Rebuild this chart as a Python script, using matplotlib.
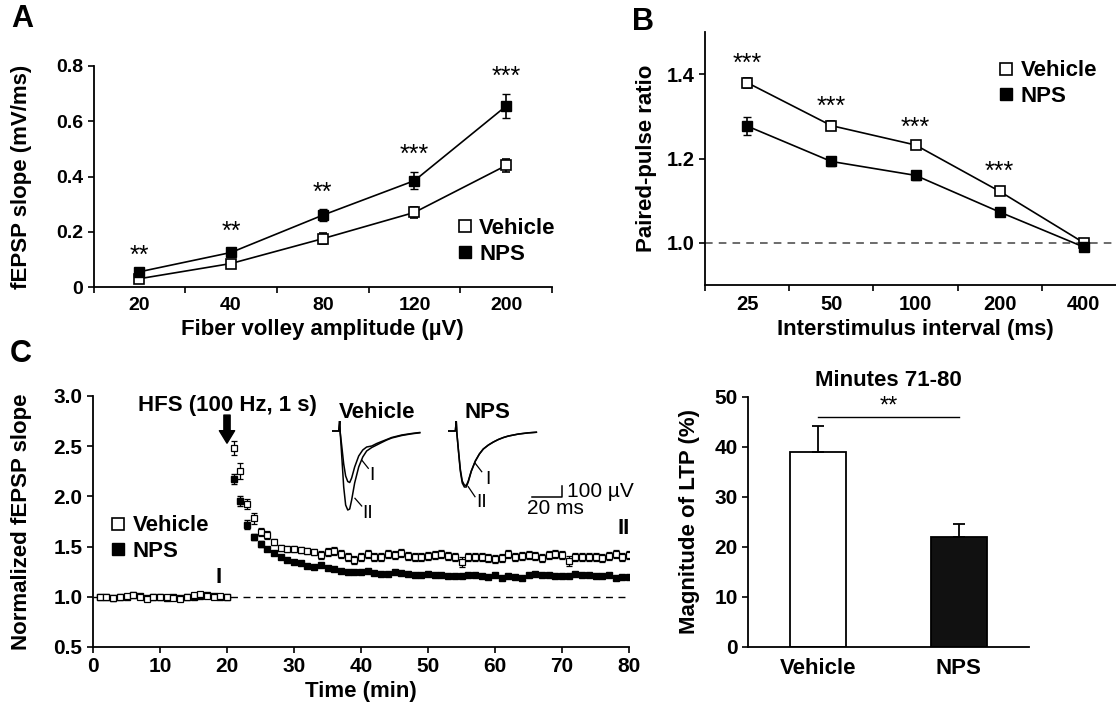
import numpy as np
import matplotlib.pyplot as plt
from matplotlib.lines import Line2D

plt.rcParams['font.family'] = ['Liberation Sans', 'DejaVu Sans']
plt.rcParams['font.weight'] = 'bold'
plt.rcParams['axes.linewidth'] = 1.3

# ── Panel A: input-output ──
a_labels = ['20', '40', '80', '120', '200']
a_veh = [0.030, 0.085, 0.175, 0.270, 0.440]
a_veh_err = [0.006, 0.008, 0.020, 0.020, 0.022]
a_nps = [0.055, 0.125, 0.260, 0.385, 0.655]
a_nps_err = [0.008, 0.010, 0.022, 0.030, 0.045]
a_stars = ['**', '**', '**', '***', '***']
a_star_y = [0.113, 0.200, 0.340, 0.480, 0.760]

# ── Panel B: paired-pulse ratio ──
b_labels = ['25', '50', '100', '200', '400']
b_veh = [1.380, 1.278, 1.232, 1.122, 1.000]
b_veh_err = [0.012, 0.010, 0.010, 0.006, 0.004]
b_nps = [1.277, 1.193, 1.160, 1.073, 0.990]
b_nps_err = [0.022, 0.010, 0.010, 0.006, 0.006]
b_stars = ['***', '***', '***', '***', '']
b_star_y = [1.424, 1.323, 1.272, 1.168, 0]

# ── Panel C: LTP time course ──
c_time = list(range(1, 81))
c_veh = [1.00, 1.00, 0.99, 1.00, 1.01, 1.02, 1.00, 0.98, 1.00, 1.00,
         1.00, 0.99, 0.98, 1.00, 1.02, 1.03, 1.01, 1.00, 1.01, 1.00,
         2.48, 2.25, 1.92, 1.78, 1.65, 1.62, 1.55, 1.49, 1.48, 1.48,
         1.47, 1.46, 1.45, 1.42, 1.45, 1.46, 1.43, 1.40, 1.37, 1.40,
         1.43, 1.40, 1.40, 1.43, 1.42, 1.44, 1.41, 1.40, 1.40, 1.41,
         1.42, 1.43, 1.41, 1.40, 1.35, 1.40, 1.40, 1.40, 1.39, 1.38,
         1.39, 1.43, 1.40, 1.41, 1.42, 1.41, 1.39, 1.42, 1.43, 1.42,
         1.36, 1.40, 1.40, 1.40, 1.40, 1.39, 1.41, 1.43, 1.40, 1.42]
c_veh_err = [0.01] * 20 + [
         0.07, 0.08, 0.05, 0.05, 0.04, 0.04, 0.03, 0.03, 0.03, 0.03,
         0.03, 0.03, 0.03, 0.04, 0.04, 0.04, 0.04, 0.04, 0.04, 0.04,
         0.04, 0.04, 0.04, 0.04, 0.04, 0.04, 0.04, 0.04, 0.04, 0.04,
         0.04, 0.04, 0.04, 0.04, 0.05, 0.04, 0.04, 0.04, 0.04, 0.04,
         0.04, 0.04, 0.04, 0.04, 0.04, 0.04, 0.04, 0.04, 0.04, 0.04,
         0.05, 0.04, 0.04, 0.04, 0.04, 0.04, 0.04, 0.04, 0.04, 0.04]
c_nps = [1.00, 1.00, 0.99, 1.00, 1.00, 1.02, 1.01, 0.99, 1.00, 1.00,
         0.99, 1.00, 0.99, 1.00, 1.00, 1.01, 1.02, 1.01, 1.00, 1.00,
         2.17, 1.95, 1.72, 1.60, 1.53, 1.48, 1.44, 1.40, 1.37, 1.35,
         1.34, 1.31, 1.30, 1.32, 1.29, 1.28, 1.26, 1.25, 1.25, 1.25,
         1.26, 1.24, 1.23, 1.23, 1.25, 1.24, 1.23, 1.22, 1.22, 1.23,
         1.22, 1.22, 1.21, 1.21, 1.21, 1.22, 1.22, 1.21, 1.20, 1.22,
         1.19, 1.21, 1.20, 1.19, 1.22, 1.23, 1.22, 1.22, 1.21, 1.21,
         1.21, 1.23, 1.22, 1.22, 1.21, 1.21, 1.22, 1.19, 1.20, 1.20]
c_nps_err = [0.01] * 20 + [
         0.05, 0.05, 0.04, 0.03, 0.03, 0.02, 0.02, 0.02, 0.02, 0.02,
         0.02, 0.02, 0.02, 0.02, 0.02, 0.02, 0.02, 0.02, 0.02, 0.02,
         0.02, 0.02, 0.02, 0.02, 0.02, 0.02, 0.02, 0.02, 0.02, 0.02,
         0.02, 0.02, 0.02, 0.02, 0.02, 0.02, 0.02, 0.02, 0.02, 0.02,
         0.02, 0.02, 0.02, 0.02, 0.02, 0.02, 0.02, 0.02, 0.02, 0.02,
         0.02, 0.02, 0.02, 0.02, 0.02, 0.02, 0.02, 0.02, 0.02, 0.02]

# example traces (ms, µV)
tr_t = [0, 4.7, 5.3, 5.7, 6.7, 8, 9.3, 10.7, 12, 13.3, 15.3, 18, 20.7, 23.3, 26.7,
        30, 33.3, 36.7, 40, 46.7, 53.3, 58.7]
tr_veh_I = [0, 0, 100, -20, -150, -330, -450, -505, -515, -470, -360, -250, -190, -160,
            -150, -125, -105, -85, -65, -40, -25, -15]
tr_veh_II = [0, 0, 100, -20, -250, -560, -740, -790, -780, -690, -520, -360, -260, -200,
             -165, -140, -115, -90, -70, -45, -28, -18]
tr_nps_I = [0, 0, 100, -20, -180, -380, -500, -540, -545, -500, -400, -300, -230, -180,
            -140, -110, -85, -65, -50, -30, -18, -12]
tr_nps_II = [0, 0, 100, -20, -190, -400, -520, -560, -560, -510, -405, -302, -231, -181,
             -141, -111, -86, -66, -51, -31, -19, -13]

# ── Panel D: LTP magnitude ──
d_groups = ['Vehicle', 'NPS']
d_vals = [39.0, 22.1]
d_err = [5.2, 2.5]

TICK = 15
LAB = 16
W, H = 1116, 703

fig = plt.figure(figsize=(W / 100, H / 100), dpi=100)


def px_axes(left, top, right, bottom):
    return fig.add_axes([left / W, 1 - bottom / H, (right - left) / W, (bottom - top) / H])


def style(ax, size=TICK):
    ax.spines['top'].set_visible(False)
    ax.spines['right'].set_visible(False)
    ax.tick_params(direction='out', labelsize=size, width=1.2, length=4)


def legend(ax, bbox):
    h = [Line2D([], [], ls='none', marker='s', mfc='white', mec='black', ms=8.5, mew=1.2),
         Line2D([], [], ls='none', marker='s', mfc='black', mec='black', ms=8.5)]
    ax.legend(h, ['Vehicle', 'NPS'], loc='center left', bbox_to_anchor=bbox, frameon=False,
              handlelength=0.6, handletextpad=0.35, labelspacing=0.2, borderpad=0,
              borderaxespad=0, prop={'weight': 'bold', 'size': 16})


def category_axis(ax, labels, size):
    pos = np.arange(len(labels)) + 0.5
    ax.set_xlim(0, len(labels))
    ax.set_xticks(np.arange(0, len(labels) + 1))
    ax.set_xticklabels([])
    ax.set_xticks(pos, minor=True)
    ax.set_xticklabels(labels, minor=True, fontsize=size, fontweight='bold')
    ax.tick_params(axis='x', which='minor', length=0, pad=7)
    return pos


def ylab(ax, text, x):
    ax.set_ylabel(text, fontsize=LAB, fontweight='bold')
    ax.yaxis.set_label_coords(x, 0.5)


def xlab(ax, text, y):
    ax.set_xlabel(text, fontsize=LAB, fontweight='bold')
    ax.xaxis.set_label_coords(0.5, y)


# ── A ──
axA = px_axes(93.5, 66, 552, 287)
style(axA, 14)
xa = category_axis(axA, a_labels, 14)
axA.errorbar(xa, a_veh, yerr=a_veh_err, color='black', lw=1.2, marker='s', ms=6.5,
             mfc='white', mec='black', mew=1.2, capsize=3, elinewidth=1.2, zorder=3)
axA.errorbar(xa, a_nps, yerr=a_nps_err, color='black', lw=1.2, marker='s', ms=7,
             mfc='black', mec='black', capsize=3, elinewidth=1.2, zorder=3)
for x, s, y in zip(xa, a_stars, a_star_y):
    axA.text(x, y, s, ha='center', va='center', fontsize=18, fontweight='normal')
axA.set_ylim(0, 0.8)
axA.set_yticks([0, 0.2, 0.4, 0.6, 0.8])
axA.set_yticklabels(['0', '0.2', '0.4', '0.6', '0.8'], fontweight='bold')
xlab(axA, 'Fiber volley amplitude (µV)', -0.145)
ylab(axA, 'fEPSP slope (mV/ms)', -0.134)
legend(axA, (0.795, 0.206))

# ── B ──
axB = px_axes(705, 32, 1126, 285)
style(axB, 14.5)
xb = category_axis(axB, b_labels, 14.5)
axB.axhline(1.0, color='#444444', ls=(0, (5, 4)), lw=1.1, zorder=1)
axB.errorbar(xb, b_veh, yerr=b_veh_err, color='black', lw=1.2, marker='s', ms=6.5,
             mfc='white', mec='black', mew=1.2, capsize=3, elinewidth=1.2, zorder=3)
axB.errorbar(xb, b_nps, yerr=b_nps_err, color='black', lw=1.2, marker='s', ms=7,
             mfc='black', mec='black', capsize=3, elinewidth=1.2, zorder=3)
for x, s, y in zip(xb, b_stars, b_star_y):
    if s:
        axB.text(x, y, s, ha='center', va='center', fontsize=18, fontweight='normal')
axB.set_ylim(0.9, 1.5)
axB.set_yticks([1.0, 1.2, 1.4])
axB.set_yticklabels(['1.0', '1.2', '1.4'], fontweight='bold')
xlab(axB, 'Interstimulus interval (ms)', -0.134)
ylab(axB, 'Paired-pulse ratio', -0.114)
legend(axB, (0.70, 0.796))

# ── C ──
axC = px_axes(93, 396, 629, 647)
style(axC)
axC.axhline(1.0, color='black', ls=(0, (5, 4)), lw=1.0, zorder=1)
axC.errorbar(c_time, c_veh, yerr=c_veh_err, ls='none', marker='s', ms=4.3,
             mfc='white', mec='black', mew=0.9, ecolor='black', elinewidth=0.9,
             capsize=2.5, zorder=3)
axC.errorbar(c_time, c_nps, yerr=c_nps_err, ls='none', marker='s', ms=4.3,
             mfc='black', mec='black', ecolor='black', elinewidth=0.9,
             capsize=2.5, zorder=2)
axC.set_xlim(0, 80)
axC.set_ylim(0.5, 3.0)
axC.set_xticks(range(0, 81, 10))
axC.set_yticks([0.5, 1.0, 1.5, 2.0, 2.5, 3.0])
axC.set_yticklabels(['0.5', '1.0', '1.5', '2.0', '2.5', '3.0'], fontweight='bold')
axC.set_xticklabels([str(v) for v in range(0, 81, 10)], fontweight='bold')
xlab(axC, 'Time (min)', -0.135)
ylab(axC, 'Normalized fEPSP slope', -0.114)
axC.annotate('', xy=(20, 2.53), xytext=(20, 2.81),
             arrowprops=dict(facecolor='black', edgecolor='black', width=4.5,
                             headwidth=11, headlength=9))
axC.text(20, 2.91, 'HFS (100 Hz, 1 s)', ha='center', va='center', fontsize=16,
         fontweight='bold')
axC.text(18.8, 1.19, 'I', ha='center', va='center', fontsize=16, fontweight='bold')
axC.text(79.2, 1.68, 'II', ha='center', va='center', fontsize=16, fontweight='bold')
legend(axC, (0.035, 0.432))


# ── insets with traces (1.5 px per ms, 10 px per 100 µV) ──
def trace_inset(left_px, title, title_x, tI, tII, lI, lII, pI, pII):
    ax = px_axes(left_px, 421, left_px + 90, 521)
    ax.set_xlim(0, 60)
    ax.set_ylim(-900, 100)
    ax.axis('off')
    ax.plot(tr_t, tI, color='black', lw=1.1)
    ax.plot(tr_t, tII, color='black', lw=1.1)
    ax.text(title_x, 180, title, ha='left', va='center', fontsize=16, fontweight='bold',
            clip_on=False)
    ax.plot(lI[0], lI[1], color='black', lw=0.9)
    ax.plot(lII[0], lII[1], color='black', lw=0.9)
    ax.text(pI[0], pI[1], 'I', fontsize=14, fontweight='normal', ha='center', va='center')
    ax.text(pII[0], pII[1], 'II', fontsize=14, fontweight='normal', ha='center', va='center')
    return ax


trace_inset(331.7, 'Vehicle', 4.9, tr_veh_I, tr_veh_II,
            ([20, 24.4], [-290, -373]), ([15.5, 20], [-673, -750]),
            (26.5, -450), (24, -820))
axN = trace_inset(448.3, 'NPS', 11, tr_nps_I, tr_nps_II,
                  ([17.8, 22.3], [-320, -407]), ([13.3, 17.8], [-557, -657]),
                  (26.5, -490), (22.3, -715))
# scale bar: 20 ms, 100 µV
axN.plot([55.6, 75.6, 75.6], [-657, -657, -550], color='black', lw=1.1, clip_on=False)
axN.text(79, -605, '100 µV', ha='left', va='center', fontsize=15, fontweight='normal',
         clip_on=False)
axN.text(52.5, -775, '20 ms', ha='left', va='center', fontsize=15, fontweight='normal',
         clip_on=False)

# ── D ──
axD = px_axes(748, 397, 1029, 647)
style(axD)
xd = np.array([0.5, 1.5])
axD.bar(xd, d_vals, width=0.4, color=['white', '#111111'], edgecolor='black', lw=1.3,
        yerr=[[0, 0], d_err], error_kw=dict(ecolor='black', elinewidth=1.3, capsize=4,
                                           capthick=1.3))
axD.set_xlim(0, 2)
axD.set_ylim(0, 50)
axD.set_yticks(range(0, 51, 10))
axD.set_yticklabels([str(v) for v in range(0, 51, 10)], fontweight='bold')
axD.set_xticks(xd)
axD.set_xticklabels(d_groups, fontsize=16, fontweight='bold')
axD.tick_params(axis='x', length=0, pad=8)
ylab(axD, 'Magnitude of LTP (%)', -0.171)
axD.plot(xd, [46, 46], color='black', lw=1.0)
axD.text(1.0, 48.0, '**', ha='center', va='center', fontsize=17, fontweight='normal')
axD.text(1.0, 53.2, 'Minutes 71-80', ha='center', va='center', fontsize=16,
         fontweight='bold', clip_on=False)

# panel letters
fig.text(22 / W, 1 - 19 / H, 'A', fontsize=22, fontweight='bold', ha='center', va='center')
fig.text(643 / W, 1 - 22 / H, 'B', fontsize=22, fontweight='bold', ha='center', va='center')
fig.text(21 / W, 1 - 354 / H, 'C', fontsize=22, fontweight='bold', ha='center', va='center')

plt.savefig('out.png', dpi=100)
plt.close()
